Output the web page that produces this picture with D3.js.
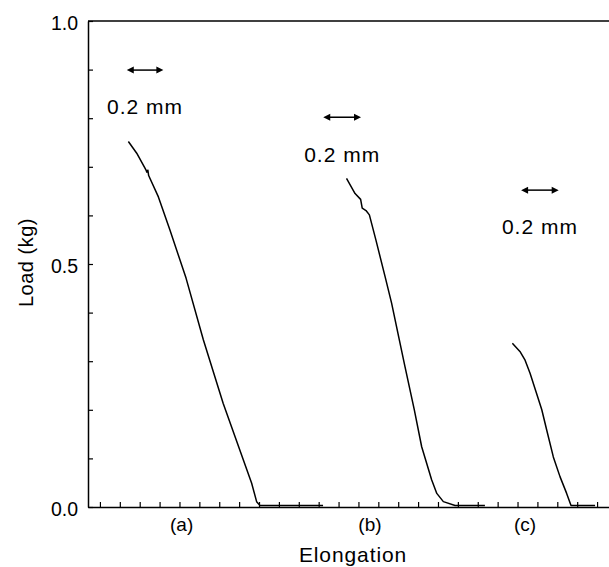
<!DOCTYPE html>
<html>
<head>
<meta charset="utf-8">
<script src="https://cdn.jsdelivr.net/npm/d3@7"></script>
<style>
  body { margin: 0; background: #fff; }
  text { font-family: "Liberation Sans", Arial, sans-serif; fill: #000; }
</style>
</head>
<body>
<svg id="chart" width="609" height="567"></svg>
<script>
// load (kg) against elongation (mm), three specimens
var curveA = [[0.143,0.752],[0.185,0.728],[0.232,0.693],[0.236,0.689],[0.241,0.693],[0.245,0.682],
              [0.294,0.638],[0.352,0.570],[0.433,0.471],[0.520,0.344],[0.620,0.213],[0.763,0.049],
              [0.788,0.011],[0.805,0.003],[1.122,0.003]];
var curveB = [[1.240,0.676],[1.283,0.645],[1.311,0.633],[1.319,0.615],[1.338,0.610],[1.355,0.601],
              [1.388,0.549],[1.434,0.474],[1.467,0.419],[1.504,0.347],[1.534,0.289],[1.581,0.200],
              [1.618,0.124],[1.668,0.056],[1.694,0.028],[1.727,0.011],[1.786,0.003],[1.936,0.003]];
var curveC = [[2.074,0.337],[2.112,0.320],[2.138,0.302],[2.163,0.275],[2.193,0.237],[2.222,0.200],
              [2.247,0.158],[2.280,0.103],[2.314,0.062],[2.347,0.028],[2.369,0.003],[2.490,0.003]];

var categories = ["(a)", "(b)", "(c)"];
var categoryX = [0.411, 1.358, 2.138];

// 0.2 mm scale bars: [x0, x1, y, label baseline]
var scaleBars = [[0.135,0.319,0.899,0.809],[1.123,1.313,0.802,0.710],[2.118,2.307,0.652,0.562]];
var scaleLabel = "0.2 mm";

var yTicks = d3.range(0, 10.5, 1).map(function(d){ return d / 10; });
var yLabels = [0, 0.5, 1];
var xTicks = d3.range(0, 25.5, 1).map(function(d){ return d / 10; });

var svg = d3.select("#chart");
var x = d3.scaleLinear().domain([-0.06, 2.56]).range([88, 609]);
var y = d3.scaleLinear().domain([0, 1]).range([507, 21]);

// left axis, ticks pointing inward
svg.append("g")
    .attr("transform", "translate(88,0)")
    .call(d3.axisLeft(y).tickValues(yTicks).tickSizeInner(-5).tickSizeOuter(0).tickPadding(10)
        .tickFormat(function(d){ return yLabels.some(function(v){ return Math.abs(v - d) < 1e-6; }) ? d3.format(".1f")(d) : ""; }))
    .call(function(g){
        g.select(".domain").attr("stroke-width", 1.5);
        g.selectAll(".tick line").attr("stroke-width", 1.2);
        g.selectAll(".tick text").attr("font-size", 19.5).attr("font-family", null).attr("dy", "0.46em");
    });

// bottom axis
svg.append("g")
    .attr("transform", "translate(0,507)")
    .call(d3.axisBottom(x).tickValues(xTicks).tickSizeInner(-5).tickSizeOuter(0).tickFormat(""))
    .call(function(g){
        g.select(".domain").attr("stroke-width", 1.5);
        g.selectAll(".tick line").attr("stroke-width", 1.2);
    });

// top frame line
svg.append("line")
    .attr("x1", x(-0.06)).attr("x2", x(2.56))
    .attr("y1", y(1)).attr("y2", y(1))
    .attr("stroke", "#000").attr("stroke-width", 1.5);

var line = d3.line().x(function(d){ return x(d[0]); }).y(function(d){ return y(d[1]); });

svg.selectAll("path.curve")
    .data([curveA, curveB, curveC])
  .enter().append("path")
    .attr("class", "curve")
    .attr("d", line)
    .attr("fill", "none")
    .attr("stroke", "#000")
    .attr("stroke-width", 1.5)
    .attr("stroke-linejoin", "round");

// category labels under the axis
svg.selectAll("text.cat")
    .data(categories)
  .enter().append("text")
    .attr("class", "cat")
    .attr("x", function(d, i){ return x(categoryX[i]); })
    .attr("y", 531)
    .attr("text-anchor", "middle")
    .attr("font-size", 19)
    .text(function(d){ return d; });

// scale bars with double arrowheads
var bars = svg.selectAll("g.bar").data(scaleBars).enter().append("g").attr("class", "bar");
bars.append("line")
    .attr("x1", function(d){ return x(d[0]) + 4; })
    .attr("x2", function(d){ return x(d[1]) - 4; })
    .attr("y1", function(d){ return y(d[2]); })
    .attr("y2", function(d){ return y(d[2]); })
    .attr("stroke", "#000").attr("stroke-width", 1.5);
bars.append("path")
    .attr("d", function(d){
        var x0 = x(d[0]), x1 = x(d[1]), yy = y(d[2]);
        return "M" + x0 + "," + yy + "l7,-3.5v7z" + "M" + x1 + "," + yy + "l-7,-3.5v7z";
    })
    .attr("fill", "#000");
bars.append("text")
    .attr("x", function(d){ return (x(d[0]) + x(d[1])) / 2; })
    .attr("y", function(d){ return y(d[3]); })
    .attr("text-anchor", "middle")
    .attr("font-size", 21)
    .attr("letter-spacing", 1)
    .text(scaleLabel);

// axis titles
svg.append("text")
    .attr("x", 353).attr("y", 562)
    .attr("text-anchor", "middle")
    .attr("font-size", 21)
    .attr("letter-spacing", 0.9)
    .text("Elongation");

svg.append("text")
    .attr("transform", "translate(33,262.5) rotate(-90)")
    .attr("text-anchor", "middle")
    .attr("font-size", 20)
    .attr("letter-spacing", 0.5)
    .text("Load (kg)");
</script>
</body>
</html>
